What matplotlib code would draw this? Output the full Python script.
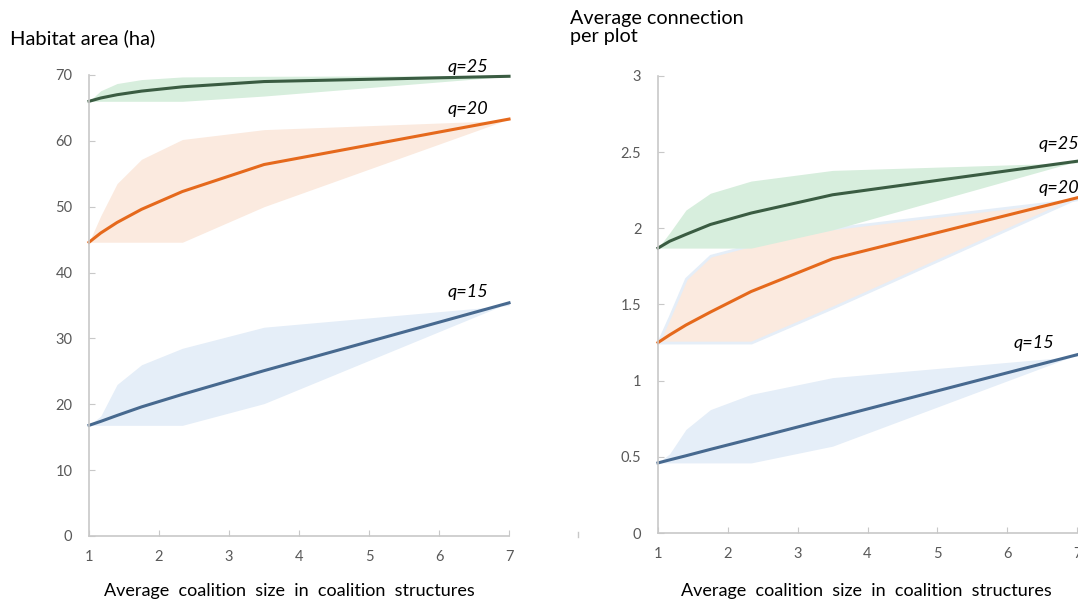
import matplotlib.pyplot as plt
from matplotlib.lines import Line2D

plt.rcParams['font.family'] = ['Lato', 'DejaVu Sans']

# Average coalition size for 7 plots split into k coalitions
sizes = [1, 7 / 6, 1.4, 1.75, 7 / 3, 3.5, 7]

# Habitat area (ha)
area_q25_mean = [66.0, 66.5, 67.0, 67.55, 68.2, 69.0, 69.8]
area_q25_low = [66.0, 66.0, 66.0, 66.0, 66.0, 66.8, 69.8]
area_q25_high = [66.0, 67.6, 68.7, 69.3, 69.7, 69.8, 69.9]
area_q20_mean = [44.6, 46.0, 47.6, 49.6, 52.3, 56.4, 63.3]
area_q20_low = [44.6, 44.6, 44.6, 44.6, 44.6, 50.0, 63.3]
area_q20_high = [44.6, 48.6, 53.5, 57.2, 60.2, 61.7, 63.1]
area_q15_mean = [16.8, 17.4, 18.3, 19.6, 21.5, 25.1, 35.4]
area_q15_low = [16.8, 16.8, 16.8, 16.8, 16.8, 20.1, 35.4]
area_q15_high = [16.8, 18.2, 23.0, 26.0, 28.5, 31.7, 35.0]

# Average connection per plot
conn_q25_mean = [1.87, 1.915, 1.96, 2.025, 2.10, 2.22, 2.44]
conn_q25_low = [1.87, 1.87, 1.87, 1.87, 1.87, 1.99, 2.44]
conn_q25_high = [1.87, 1.97, 2.12, 2.23, 2.31, 2.38, 2.43]
conn_q20_mean = [1.25, 1.30, 1.365, 1.45, 1.585, 1.80, 2.20]
conn_q20_low = [1.25, 1.25, 1.25, 1.25, 1.25, 1.48, 2.20]
conn_q20_high = [1.25, 1.42, 1.67, 1.82, 1.89, 2.00, 2.19]
conn_q15_mean = [0.46, 0.48, 0.507, 0.549, 0.617, 0.755, 1.17]
conn_q15_low = [0.46, 0.46, 0.46, 0.46, 0.46, 0.57, 1.17]
conn_q15_high = [0.46, 0.52, 0.68, 0.81, 0.91, 1.02, 1.16]

green_line, green_fill = '#3a5c42', '#d7eedd'
orange_line, orange_fill = '#e5691c', '#fbeadf'
blue_line, blue_fill = '#47698f', '#e5eef8'
tick_grey = '#595959'
spine_grey = '#c8c8c8'

fig = plt.figure(figsize=(10.78, 6.07), dpi=100)
ax1 = fig.add_axes([0.0826, 0.117, 0.3896, 0.7595])
ax2 = fig.add_axes([0.6104, 0.1219, 0.3887, 0.753])


def style_axis(ax, ymax, yticks, ylabels):
    ax.set_xlim(1, 7)
    ax.set_ylim(0, ymax)
    ax.set_xticks(range(1, 8))
    ax.set_yticks(yticks)
    ax.set_yticklabels(ylabels)
    for side in ['top', 'right']:
        ax.spines[side].set_visible(False)
    for side in ['left', 'bottom']:
        ax.spines[side].set_color(spine_grey)
        ax.spines[side].set_linewidth(1.2)
    ax.tick_params(axis='both', direction='in', length=4, color=spine_grey,
                   labelcolor=tick_grey, labelsize=10.5)
    ax.tick_params(axis='y', pad=12)
    ax.tick_params(axis='x', pad=10)


style_axis(ax1, 70, range(0, 71, 10), [str(v) for v in range(0, 71, 10)])
style_axis(ax2, 3, [0, 0.5, 1, 1.5, 2, 2.5, 3], ['0', '0.5', '1', '1.5', '2', '2.5', '3'])

# left panel
ax1.fill_between(sizes, area_q25_low, area_q25_high, color=green_fill, lw=0)
ax1.fill_between(sizes, area_q20_low, area_q20_high, color=orange_fill, lw=0)
ax1.fill_between(sizes, area_q15_low, area_q15_high, color=blue_fill, lw=0)
ax1.plot(sizes, area_q25_mean, color=green_line, lw=2.2, clip_on=False)
ax1.plot(sizes, area_q20_mean, color=orange_line, lw=2.2, clip_on=False)
ax1.plot(sizes, area_q15_mean, color=blue_line, lw=2.2, clip_on=False)

lab = dict(ha='right', va='center', style='italic', fontsize=13, clip_on=False)
ax1.text(6.7, 71.2, 'q=25', **lab)
ax1.text(6.7, 64.8, 'q=20', **lab)
ax1.text(6.7, 37.0, 'q=15', **lab)

# right panel
ax2.fill_between(sizes, conn_q20_low, conn_q20_high, facecolor=orange_fill,
                 edgecolor=blue_fill, lw=2)
ax2.fill_between(sizes, conn_q25_low, conn_q25_high, color=green_fill, lw=0)
ax2.fill_between(sizes, conn_q15_low, conn_q15_high, color=blue_fill, lw=0)
ax2.plot(sizes, conn_q25_mean, color=green_line, lw=2.2, clip_on=False)
ax2.plot(sizes, conn_q20_mean, color=orange_line, lw=2.2, clip_on=False)
ax2.plot(sizes, conn_q15_mean, color=blue_line, lw=2.2, clip_on=False)

ax2.text(7.03, 2.55, 'q=25', **lab)
ax2.text(7.03, 2.265, 'q=20', **lab)
ax2.text(6.67, 1.25, 'q=15', **lab)

# axis titles
fig.text(0.009, 0.937, 'Habitat area (ha)', fontsize=14.5, va='center')
fig.text(0.529, 0.955, 'Average connection\nper plot', fontsize=14.2, va='center',
         linespacing=1.1)
xlab = 'Average  coalition  size  in  coalition  structures'
fig.text(0.268, 0.026, xlab, fontsize=13, ha='center', va='center')
fig.text(0.804, 0.026, xlab, fontsize=13, ha='center', va='center')

# small stray tick left of the right panel
fig.add_artist(Line2D([0.5362, 0.5362], [0.116, 0.124], color=spine_grey, lw=1))

fig.savefig('out.png', dpi=100)
